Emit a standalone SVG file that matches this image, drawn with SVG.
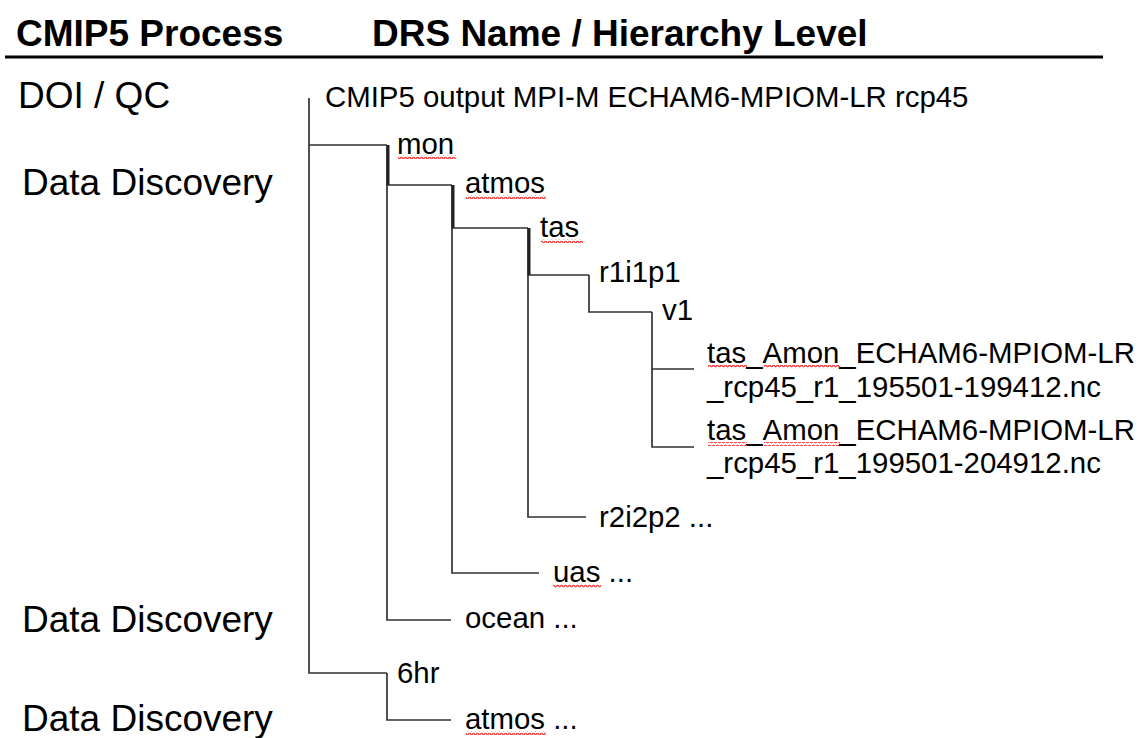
<svg xmlns="http://www.w3.org/2000/svg" width="1140" height="738" viewBox="0 0 1140 738">
<style>
.hdr{font-family:"Liberation Sans",Arial,sans-serif;font-weight:bold;font-size:37px;fill:#000}
.lbl{font-family:"Liberation Sans",Arial,sans-serif;font-size:37px;fill:#000}
.t{font-family:"Liberation Sans",Arial,sans-serif;font-size:29.4px;fill:#000}
.c{fill:none;stroke:#333;stroke-width:1.7}
.ct{fill:none;stroke:#222;stroke-width:3}
.sq{fill:url(#squig)}
</style>
<defs>
<pattern id="squig" patternUnits="userSpaceOnUse" width="4" height="4">
<path d="M0,3 Q1,0.5 2,1.5 T4,3" fill="none" stroke="#ff2a2a" stroke-width="1.1"/>
</pattern>
</defs>
<rect width="1140" height="738" fill="#fff"/>
<g id="header">
<text class="hdr" x="16" y="46">CMIP5 Process</text>
<text class="hdr" x="372" y="46">DRS Name / Hierarchy Level</text>
<line x1="5" y1="57" x2="1103" y2="57" stroke="#000" stroke-width="3"/>
</g>
<g id="process-labels">
<text class="lbl" x="18" y="108">DOI / QC</text>
<text class="lbl" x="22" y="195">Data Discovery</text>
<text class="lbl" x="22" y="632">Data Discovery</text>
<text class="lbl" x="22" y="731">Data Discovery</text>
</g>
<g id="connectors">
<path class="c" d="M309,98 V145 H387"/>
<path class="c" d="M309,145 V673 H387"/>
<path class="c" d="M387,145 V185 H452"/>
<path class="c" d="M387,185 V620 H451"/>
<path class="c" d="M452,185 V228 H528"/>
<path class="c" d="M452,228 V573 H539"/>
<path class="c" d="M528,228 V275 H589"/>
<path class="c" d="M528,275 V517 H586"/>
<path class="c" d="M589,275 V312 H652"/>
<path class="c" d="M652,312 V369 H694"/>
<path class="c" d="M652,369 V447 H694"/>
<path class="c" d="M387,673 V720 H451"/>
<path class="ct" d="M388,145 V185"/>
<path class="ct" d="M453,185 V228"/>
<path class="ct" d="M529,228 V275"/>
</g>
<g id="n-root"><text class="t" x="325" y="107">CMIP5 output MPI-M ECHAM6-MPIOM-LR rcp45</text></g>
<g id="n-mon"><text class="t" x="397" y="154">mon</text><rect class="sq" x="398" y="155" width="58" height="4"/></g>
<g id="n-atmos"><text class="t" x="465" y="193">atmos</text><rect class="sq" x="466" y="195" width="80" height="4"/></g>
<g id="n-tas"><text class="t" x="540" y="237">tas</text><rect class="sq" x="541" y="239" width="42" height="4"/></g>
<g id="n-r1i1p1"><text class="t" x="599" y="282">r1i1p1</text></g>
<g id="n-v1"><text class="t" x="662" y="320">v1</text></g>
<g id="n-file1">
<text class="t" x="707" y="363">tas_Amon_ECHAM6-MPIOM-LR</text>
<text class="t" x="707" y="397">_rcp45_r1_195501-199412.nc</text>
<rect class="sq" x="708" y="365" width="39" height="4"/>
<rect class="sq" x="764" y="365" width="76" height="4"/>
</g>
<g id="n-file2">
<text class="t" x="707" y="440">tas_Amon_ECHAM6-MPIOM-LR</text>
<text class="t" x="707" y="473">_rcp45_r1_199501-204912.nc</text>
<rect class="sq" x="708" y="442" width="39" height="4"/>
<rect class="sq" x="764" y="442" width="76" height="4"/>
</g>
<g id="n-r2i2p2"><text class="t" x="599" y="527">r2i2p2 ...</text></g>
<g id="n-uas"><text class="t" x="553" y="582">uas ...</text><rect class="sq" x="553" y="584" width="48" height="4"/></g>
<g id="n-ocean"><text class="t" x="465" y="628">ocean ...</text></g>
<g id="n-6hr"><text class="t" x="397" y="683">6hr</text></g>
<g id="n-atmos2"><text class="t" x="465" y="729">atmos ...</text><rect class="sq" x="466" y="731" width="80" height="4"/></g>
</svg>
